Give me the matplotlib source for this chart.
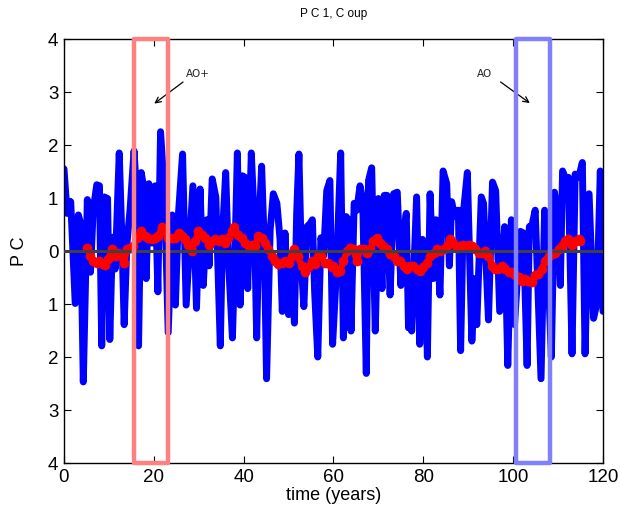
import matplotlib
matplotlib.use("Agg")
import matplotlib.pyplot as plt
from matplotlib.patches import Rectangle

plt.rcParams['font.family'] = ['Liberation Sans', 'DejaVu Sans']

# PC1 time series (turning points)
pc_time = [0.0, 0.7, 1.5, 2.5, 3.2, 3.7, 4.3, 5.2, 5.9, 6.5, 7.3, 7.9, 8.4, 9.0, 9.7, 10.2,
           10.8, 11.4, 12.3, 12.9, 13.4, 14.0, 14.7, 15.6, 16.2, 16.6, 17.2, 17.8, 18.3, 18.9,
           19.6, 20.3, 20.9, 21.5, 22.4, 23.2, 24.1, 24.8, 25.5, 26.4, 27.2, 28.1, 28.7, 29.5,
           30.3, 31.0, 31.8, 32.3, 33.0, 33.8, 34.8, 35.3, 36.0, 36.6, 37.5, 38.1, 38.6, 39.2,
           39.7, 40.3, 40.9, 41.7, 42.4, 42.9, 43.4, 44.0, 44.6, 45.1, 45.9, 46.6, 47.4, 48.1,
           48.6, 49.2, 50.0, 50.7, 51.3, 51.8, 52.3, 52.9, 53.4, 54.1, 54.8, 55.3, 55.8, 56.5,
           57.2, 57.8, 58.5, 59.2, 59.8, 60.7, 61.6, 62.2, 62.8, 63.3, 63.9, 64.6, 65.2, 65.9,
           66.5, 67.3, 67.8, 68.5, 69.3, 70.0, 70.8, 71.3, 71.9, 72.6, 73.4, 74.2, 75.0, 75.6,
           76.2, 76.7, 77.1, 77.4, 78.5, 79.2, 79.8, 80.3, 80.9, 81.5, 82.2, 82.8, 83.7, 84.4,
           85.2, 85.8, 86.3, 87.0, 87.8, 88.3, 88.9, 89.8, 90.8, 91.5, 91.9, 92.9, 93.4, 94.5,
           95.4, 96.1, 97.0, 98.1, 98.8, 99.6, 100.3, 101.6, 102.3, 103.1, 103.6, 104.2, 104.9,
           106.2, 107.0, 107.7, 108.5, 109.2, 109.8, 110.5, 111.0, 111.7, 112.3, 113.1, 113.8,
           114.6, 115.4, 116.0, 116.9, 117.9, 118.6, 119.4, 120.0]
pc_value = [1.55, 0.71, 0.93, -0.99, 0.68, 0.52, -2.47, 0.97, -0.40, 0.77, 1.25, 1.23, -1.79, 1.02,
            0.99, -1.67, 0.26, -0.34, 1.85, 0.22, -1.39, 0.12, 0.77, 1.89, 1.02, -1.79, 1.48, 1.17,
            -0.52, 1.27, 0.15, 1.23, -0.77, 2.25, 1.05, -1.54, 0.68, -1.02, 0.72, 1.83, -1.02, 0.34,
            1.23, -1.08,
            1.17, -0.65, 0.59, -0.28, 1.36, 1.02, -1.79, 0.34, 1.48, -0.15, -1.64, 0.09, 1.85, -1.02,
            1.42, 1.39, -0.71, 1.85, 0.52, -1.64, 0.40, 1.60, 0.09, -2.41, 0.40, 1.08, 0.90, 0.22,
            -1.14, 0.34, -1.20, -0.37, -1.36, 0.71, 1.83, -0.34, -1.05, 0.46, 0.52, 0.59, -0.77,
            -2.00, 0.25, -0.09, 1.14, 1.33, -1.76, -0.30, 1.85, -1.64, 0.65, 0.59, -1.51, 0.90,
            0.77, 1.23, 0.96, -2.31, 1.33, 1.57, -1.51, 0.99, -0.71, 1.05, 1.05, -0.83, 1.08, 1.11,
            -0.65, 0.34, 0.71, -1.45, -0.30, -1.51, 1.02, -1.76, 0.22, 0.15, -2.00, 1.08, -0.52,
            0.59, -0.83, 1.51, 1.27, -0.28, 0.93, 0.65, 0.77, -1.88, 0.71, 1.48, -1.70, -0.52,
            -1.39, 1.02, 0.90, -1.30, 1.30, 1.14, -1.14, 0.46, -2.16, 0.59, -1.39, 0.37, 0.34,
            -2.16, 0.46, 0.49, 0.77, -2.41, 0.77, -0.22, -2.00, 1.11, 0.77, -0.65, 1.51, 1.36,
            1.39, -1.94, 1.45, 1.39, 1.67, -1.94, 1.08, -1.27, -1.00, 1.51, -1.14]

# Running mean (red)
rm_time = [5.1, 5.8, 6.5, 7.3, 7.9, 8.6, 9.1, 9.9, 10.6, 11.4, 12.1, 12.8, 13.4, 14.0, 14.7, 15.4,
           16.3, 17.1, 18.0, 18.8, 19.5, 20.3, 21.0, 21.8, 22.5, 23.2, 24.0, 24.7, 25.5, 26.2,
           27.0, 27.7, 28.4, 29.2, 29.9, 30.7, 31.4, 32.2, 32.9, 33.6, 34.4, 35.1, 35.9, 36.6,
           37.4, 37.9, 38.7, 39.6, 40.3, 41.1, 41.8, 42.5, 43.3, 44.0, 44.8, 45.5, 46.3, 47.0,
           47.7, 48.5, 49.2, 50.0, 50.7, 51.3, 52.0, 52.9, 53.7, 54.4, 55.2, 55.9, 56.6, 57.2,
           58.0, 58.7, 59.6, 60.0, 60.7, 61.5, 62.2, 63.0, 63.7, 64.4, 65.2, 65.9, 66.7, 67.4,
           68.2, 68.9, 69.6, 70.4, 71.1, 71.9, 72.6, 73.4, 74.1, 74.8, 75.6, 76.3, 77.1, 77.8,
           78.6, 79.3, 80.0, 80.8, 81.5, 82.3, 83.0, 83.7, 84.5, 85.2, 86.0, 86.7, 87.5, 88.2,
           88.9, 89.7, 90.1, 90.8, 91.5, 92.3, 93.0, 93.8, 94.5, 95.3, 96.0, 96.7, 97.5, 98.2,
           99.0, 99.7, 100.5, 101.2, 101.9, 102.7, 103.4, 104.2, 104.9, 105.6, 106.4, 107.1,
           107.9, 108.6, 109.4, 110.1, 110.8, 111.6, 112.3, 113.1, 113.8, 114.6, 114.9]
rm_value = [0.06, -0.09, -0.19, -0.22, -0.19, -0.25, -0.26, -0.15, 0.03, -0.09, -0.03, -0.09, -0.22,
            0.03, 0.06, 0.09, 0.25, 0.37, 0.28, 0.25, 0.22, 0.25, 0.28, 0.46, 0.37, 0.25, 0.25, 0.25,
            0.34, 0.28, 0.22, 0.12, 0.00, 0.19, 0.37, 0.31, 0.25, 0.12, 0.19, 0.22, 0.19, 0.22, 0.15,
            0.25, 0.37, 0.46, 0.31, 0.25, 0.15, 0.09, 0.12, 0.09, 0.28, 0.25, 0.15, 0.03, -0.09,
            -0.19, -0.25, -0.22, -0.19, -0.22, -0.09, 0.03, -0.09, -0.28, -0.40, -0.31, -0.19, -0.25,
            -0.09, -0.09, -0.22, -0.22, -0.31, -0.28, -0.40, -0.37, -0.19, 0.00, 0.06, 0.03, -0.19,
            0.03, 0.03, -0.03, 0.03, 0.19, 0.25, 0.15, 0.09, 0.03, -0.06, -0.09, -0.19, -0.19, -0.28,
            -0.34, -0.28, -0.28, -0.34, -0.37, -0.31, -0.22, -0.09, -0.03, 0.03, 0.00, 0.03, 0.09,
            0.22, 0.15, 0.06, 0.09, 0.12, 0.09, 0.12, 0.09, 0.03, -0.03, -0.03, 0.00, -0.09, -0.28,
            -0.34, -0.34, -0.28, -0.34, -0.40, -0.40, -0.46, -0.49, -0.56, -0.52, -0.56, -0.59,
            -0.46, -0.43, -0.34, -0.19, -0.09, -0.06, -0.03, 0.03, 0.09, 0.19, 0.22, 0.12, 0.19,
            0.22, 0.19]

x_ticks = [0, 20, 40, 60, 80, 100, 120]
y_ticks = [-4, -3, -2, -1, 0, 1, 2, 3, 4]
y_tick_labels = ['4', '3', '2', '1', '0', '1', '2', '3', '4']

# highlighted windows (years) and labels
box_spans = [(15.6, 23.2), (100.6, 108.1)]
box_colors = ['#ff8080', '#8080ff']
box_labels = ['AO+', 'AO']
label_pos = [(27.2, 3.34), (92.0, 3.34)]
arrow_tail = [(27.0, 3.22), (96.7, 3.22)]
arrow_head = [(19.6, 2.75), (104.2, 2.76)]

fig = plt.figure(figsize=(6.2, 5.12), dpi=100)
ax = fig.add_axes([0.1032, 0.0957, 0.8694, 0.8281])

ax.plot(pc_time, pc_value, color='#0000ff', lw=5.0, solid_joinstyle='round',
        solid_capstyle='round', zorder=2)
ax.plot(rm_time, rm_value, color='#ff0000', lw=4.5, marker='o', ms=7.0,
        markeredgewidth=0, zorder=3)
ax.plot([0, 120], [0, 0], color='#404040', lw=2.2, zorder=4)

for (x0, x1), c in zip(box_spans, box_colors):
    ax.add_patch(Rectangle((x0, -4), x1 - x0, 8, fill=False, edgecolor=c, lw=3.2,
                           joinstyle='round', clip_on=False, zorder=5))

for lab, lp, t, h in zip(box_labels, label_pos, arrow_tail, arrow_head):
    ax.text(lp[0], lp[1], lab, fontsize=7.5, ha='left', va='center', color='#222222',
            family=['DejaVu Sans'])
    ax.annotate('', xy=h, xytext=t,
                arrowprops=dict(arrowstyle='->', color='black', lw=0.9,
                                mutation_scale=10))

ax.set_xlim(0, 120)
ax.set_ylim(-4, 4)
ax.set_xticks(x_ticks)
ax.set_xticklabels([str(v) for v in x_ticks])
ax.set_yticks(y_ticks)
ax.set_yticklabels(y_tick_labels)
ax.tick_params(direction='in', length=5, width=0.8, top=True, right=True,
               labelsize=13.5, pad=4)
for s in ax.spines.values():
    s.set_linewidth(1.0)

ax.set_xlabel('time (years)', fontsize=13, labelpad=1)
ax.set_ylabel('P C', fontsize=13, labelpad=14)
ax.set_title('P C 1, C oup', fontsize=8.5, pad=16)

fig.savefig('out.png', dpi=100)
